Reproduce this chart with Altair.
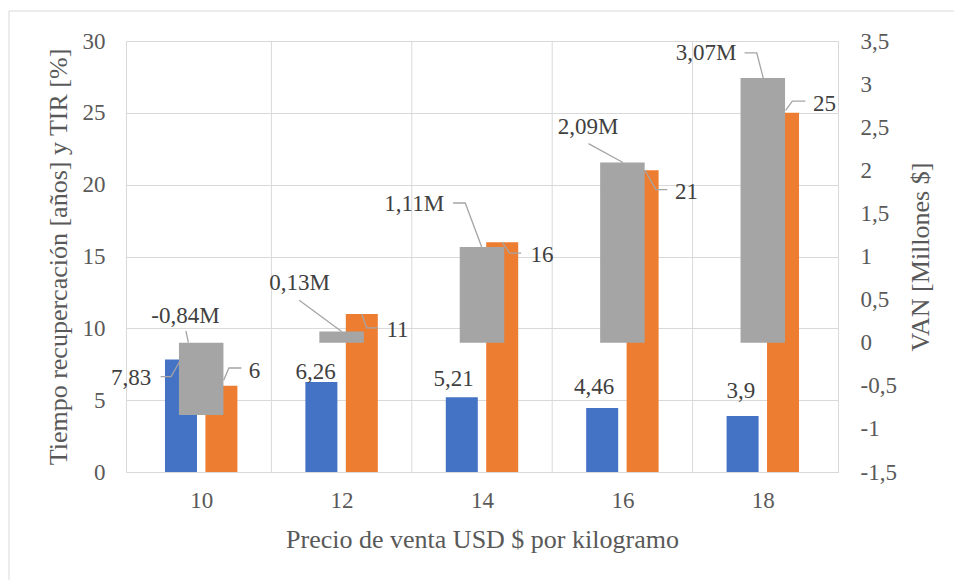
import altair as alt
import pandas as pd

# Sale price per kilogram (USD) and the three indicators evaluated at each price
precio = [10, 12, 14, 16, 18]
recuperacion = [7.83, 6.26, 5.21, 4.46, 3.9]   # payback time, years
tir = [6, 11, 16, 21, 25]                      # IRR, %
van = [-0.84, 0.13, 1.11, 2.09, 3.07]          # NPV, millions of $

# Plot area size and scale domains
W, H = 712, 431
X_DOM = [9, 19]
Y1_DOM = [0, 30]
Y2_DOM = [-1.5, 3.5]
PX_X = W / (X_DOM[1] - X_DOM[0])
PX_Y1 = H / (Y1_DOM[1] - Y1_DOM[0])
PX_Y2 = H / (Y2_DOM[1] - Y2_DOM[0])

BLUE, ORANGE, GRAY = "#4472C4", "#ED7D31", "#A5A5A5"
GRID = "#D9D9D9"
AXIS_TXT = "#595959"
LABEL_TXT = "#404040"
FONT = "'Liberation Serif', 'Times New Roman', serif"

BAR_SHIFT = 20.5 / PX_X   # blue/orange bars sit either side of the category centre

# Label placement in pixels, relative to the end of each bar:
# (dx, dy) of the text baseline centre, and the elbow points of its leader line
place_rec = [(-50.7, 25.1), (-5.8, -3.5), (-8.2, -11.0), (-8.1, -13.6), (-1.8, -18.4)]
lead_rec = [[(-20.7, 17.1), (-10.0, 17.1), (-1.7, 2.5)], [], [], [], []]
place_tir = [(33.5, -8.2), (36.2, 23.0), (40.3, 19.9), (44.6, 28.3), (42.2, -1.8)]
lead_tir = [
    [(20.3, -17.8), (7.6, -17.8), (2.3, -5.5)],
    [(0.0, 0.0), (4.9, 14.0), (16.6, 14.0)],
    [(0.0, 0.0), (7.5, 11.0), (19.2, 11.0)],
    [(2.4, 0.0), (13.4, 19.3), (25.1, 19.3)],
    [(2.7, -2.5), (9.4, -11.8), (22.7, -11.8)],
]
place_van = [(-16.0, -19.7), (-42.6, -41.9), (-68.8, -35.7), (-34.7, -28.2), (-57.6, -18.5)]
lead_van = [
    [(-15.5, -11.7), (-13.0, 0.0)],
    [(-43.0, -31.2), (0.0, 0.0)],
    [(-29.3, -44.0), (-17.0, -44.0), (-0.3, 0.0)],
    [(-34.4, -18.9), (0.6, 0.0)],
    [(-18.5, -25.1), (-6.1, -25.1), (0.5, 0.0)],
]


def fmt_num(v):
    return f"{v:g}".replace(".", ",")


def fmt_van(v):
    return f"{v:.2f}".replace(".", ",") + "M"


def label_table(xs, ends, texts, place, px_y, key):
    rows = []
    for i, (x, e, t) in enumerate(zip(xs, ends, texts)):
        dx, dy = place[i]
        rows.append({"x": x + dx / PX_X, "y": e - dy / px_y, "t": t, "id": f"{key}{i}"})
    return pd.DataFrame(rows)


def leader_table(xs, ends, leads, px_y, key):
    rows = []
    for i, (x, e) in enumerate(zip(xs, ends)):
        for k, (dx, dy) in enumerate(leads[i]):
            rows.append({"x": x + dx / PX_X, "y": e - dy / px_y, "id": f"{key}{i}", "k": k})
    return pd.DataFrame(rows, columns=["x", "y", "id", "k"])


x_rec = [p - BAR_SHIFT for p in precio]
x_tir = [p + BAR_SHIFT for p in precio]
van_end = [max(v, 0) for v in van]

bars1 = pd.DataFrame({"p": precio, "xr": x_rec, "xt": x_tir, "rec": recuperacion, "tir": tir})
bars2 = pd.DataFrame({"p": precio, "van": van})
vgrid = pd.DataFrame({"g": [p + 1 for p in precio[:-1]]})

lab_rec = label_table(x_rec, recuperacion, [fmt_num(v) for v in recuperacion], place_rec, PX_Y1, "r")
lab_tir = label_table(x_tir, tir, [fmt_num(v) for v in tir], place_tir, PX_Y1, "t")
lab_van = label_table(precio, van_end, [fmt_van(v) for v in van], place_van, PX_Y2, "v")
lead1 = pd.concat([
    leader_table(x_rec, recuperacion, lead_rec, PX_Y1, "r"),
    leader_table(x_tir, tir, lead_tir, PX_Y1, "t"),
], ignore_index=True)
lead2 = leader_table(precio, van_end, lead_van, PX_Y2, "v")

x_scale = alt.Scale(domain=X_DOM, nice=False, zero=False)
y1_scale = alt.Scale(domain=Y1_DOM, nice=False)
y2_scale = alt.Scale(domain=Y2_DOM, nice=False, zero=False)

x_axis = alt.Axis(
    values=precio, format="d", grid=False, ticks=False, domain=False,
    labelPadding=17, labelFontSize=23,
    title="Precio de venta USD $ por kilogramo",
    titleX=W / 2, titleY=75, titleBaseline="alphabetic", titleFontSize=26,
)
y1_axis = alt.Axis(
    values=list(range(0, 31, 5)), grid=True, gridColor=GRID, ticks=False, tickSize=0,
    domain=False, labelPadding=21, labelFontSize=23,
    title="Tiempo recupercación [años] y TIR [%]",
    titleAngle=270, titleX=-60, titleY=H / 2, titleBaseline="alphabetic",
    titleAlign="center", titleFontSize=26,
)
y2_axis = alt.Axis(
    orient="right", values=[-1.5 + 0.5 * i for i in range(11)], grid=False,
    ticks=False, tickSize=0, domain=False, labelPadding=22, labelFontSize=23,
    labelAlign="left",
    labelExpr="replace(toString(datum.value), '.', ',')",
    title="VAN [Millones $]",
    titleAngle=270, titleX=90, titleY=H / 2, titleBaseline="alphabetic",
    titleAlign="center", titleFontSize=26,
)


def X(field):
    return alt.X(field, scale=x_scale, axis=x_axis)


def Y1(field):
    return alt.Y(field, scale=y1_scale, axis=y1_axis)


def Y2(field):
    return alt.Y(field, scale=y2_scale, axis=y2_axis)


blue = alt.Chart(bars1).mark_bar(width=32, color=BLUE).encode(
    x=X("xr:Q"), y=Y1("rec:Q"), y2=alt.datum(0),
)
orange = alt.Chart(bars1).mark_bar(width=32, color=ORANGE).encode(
    x=X("xt:Q"), y=Y1("tir:Q"), y2=alt.datum(0),
)

# vertical gridlines between price categories
grid_rules = alt.Chart(vgrid).mark_rule(color=GRID, strokeWidth=1).encode(x=X("g:Q"))

leaders1 = alt.Chart(lead1).mark_line(color=GRAY, strokeWidth=1.3).encode(
    x=X("x:Q"), y=Y1("y:Q"), detail="id:N", order="k:Q",
)

text_props = dict(font=FONT, fontSize=23, color=LABEL_TXT, align="center", baseline="alphabetic")

labels_rec = alt.Chart(lab_rec).mark_text(**text_props).encode(
    x=X("x:Q"), y=Y1("y:Q"), text="t:N",
)
labels_tir = alt.Chart(lab_tir).mark_text(**text_props).encode(
    x=X("x:Q"), y=Y1("y:Q"), text="t:N",
)

# light frame around the whole figure (left and top edges)
frame = alt.Chart(pd.DataFrame({"k": [0]}))
frame_left = frame.mark_rule(color=GRID, strokeWidth=1).encode(
    x=alt.value(-117), y=alt.value(-30), y2=alt.value(H + 108)
)
frame_top = frame.mark_rule(color=GRID, strokeWidth=1).encode(
    x=alt.value(-117), x2=alt.value(W + 116), y=alt.value(-30)
)

primary = alt.layer(grid_rules, blue, orange, leaders1, labels_rec, labels_tir, frame_left, frame_top)

gray = alt.Chart(bars2).mark_bar(width=44.5, color=GRAY).encode(
    x=X("p:Q"), y=Y2("van:Q"), y2=alt.datum(0),
)
leaders2 = alt.Chart(lead2).mark_line(color=GRAY, strokeWidth=1.3).encode(
    x=X("x:Q"), y=Y2("y:Q"), detail="id:N", order="k:Q",
)
labels_van = alt.Chart(lab_van).mark_text(**text_props).encode(
    x=X("x:Q"), y=Y2("y:Q"), text="t:N",
)

secondary = alt.layer(gray, leaders2, labels_van)

chart = (
    alt.layer(primary, secondary)
    .resolve_scale(y="independent")
    .properties(
        width=W,
        height=H,
        autosize=alt.AutoSizeParams(type="none"),
        padding={"left": 126, "top": 41, "right": 116, "bottom": 108},
        background="white",
    )
    .configure_view(stroke=GRID, strokeWidth=1)
    .configure_axis(
        labelFont=FONT, titleFont=FONT, labelColor=AXIS_TXT, titleColor=AXIS_TXT,
        titleFontWeight="normal",
    )
)

chart.save("out.html", embed_options={"renderer": "svg", "actions": False})
